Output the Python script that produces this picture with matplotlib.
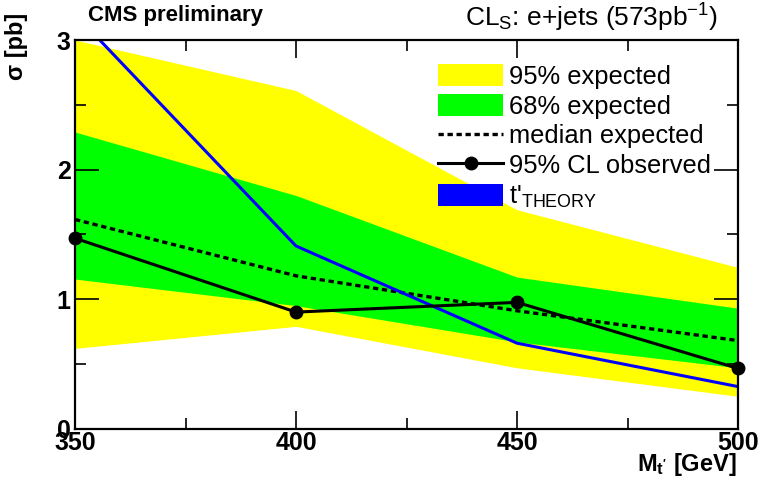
import matplotlib
matplotlib.use('Agg')
import matplotlib.pyplot as plt
from matplotlib.patches import Patch
from matplotlib.lines import Line2D
from matplotlib.ticker import MultipleLocator

plt.rcParams['font.family'] = ['Liberation Sans', 'DejaVu Sans']
plt.rcParams['mathtext.fontset'] = 'custom'
plt.rcParams['mathtext.rm'] = 'Liberation Sans'
plt.rcParams['mathtext.it'] = 'Liberation Sans'
plt.rcParams['mathtext.bf'] = 'Liberation Sans:bold'

mass = [350, 400, 450, 500]
exp95_hi = [3.0, 2.61, 1.69, 1.245]
exp95_lo = [0.62, 0.79, 0.47, 0.25]
exp68_hi = [2.29, 1.80, 1.17, 0.93]
exp68_lo = [1.155, 0.95, 0.67, 0.47]
median_exp = [1.615, 1.18, 0.91, 0.68]
observed = [1.47, 0.90, 0.975, 0.465]
theory = [3.2, 1.41, 0.66, 0.325]

fig = plt.figure(figsize=(7.59, 4.78), dpi=100)
ax = fig.add_axes([75/759, 1-428.7/478, 663/759, 388.7/478])

dots = (0, (1.6, 1.1))
ax.fill_between(mass, exp95_lo, exp95_hi, color='#ffff00', lw=0)
ax.fill_between(mass, exp68_lo, exp68_hi, color='#00ff00', lw=0)
ax.plot(mass, median_exp, color='black', lw=2.4, ls=dots)
ax.plot(mass, theory, color='#0000ff', lw=2.2)
ax.plot(mass, observed, color='black', lw=2.2, marker='o', ms=9, clip_on=False, zorder=5)

ax.set_xlim(350, 500)
ax.set_ylim(0, 3)
ax.xaxis.set_major_locator(MultipleLocator(50))
ax.xaxis.set_minor_locator(MultipleLocator(25))
ax.yaxis.set_major_locator(MultipleLocator(1))
ax.yaxis.set_minor_locator(MultipleLocator(0.5))
ax.tick_params(which='both', direction='in', top=True, right=True, width=1.2)
ax.tick_params(which='major', length=13, labelsize=18)
ax.tick_params(which='minor', length=8)
ax.tick_params(axis='y', which='major', length=17, pad=3)
ax.tick_params(axis='x', which='major', pad=2)
for lab in ax.get_xticklabels() + ax.get_yticklabels():
    lab.set_fontweight('bold')
for s in ax.spines.values():
    s.set_linewidth(1.6)
    s.set_zorder(10)

fig.text(737/759, 1-465/478, r"M$_{\mathbf{t'}}$ [GeV]", fontsize=17, fontweight='bold',
         ha='right', va='center')
fig.text(16/759, 1-46/478, "σ [pb]", fontsize=17, fontweight='bold',
         rotation=90, ha='center', va='center')

fig.text(88/759, 1-15/478, 'CMS preliminary', fontsize=16, fontweight='bold', va='center')
fig.text(718/759, 1-18/478, r'CL$_{\mathrm{S}}$: e+jets (573pb$^{-1}$)', fontsize=19,
         ha='right', va='center')

handles = [
    Patch(facecolor='#ffff00', edgecolor='none'),
    Patch(facecolor='#00ff00', edgecolor='none'),
    Line2D([], [], color='black', lw=2.4, ls=dots),
    Line2D([], [], color='black', lw=2.2, marker='o', ms=9),
    Patch(facecolor='#0000ff', edgecolor='none'),
]
labels = ['95% expected', '68% expected', 'median expected', '95% CL observed',
          r"t'$_{\mathrm{THEORY}}$"]
leg = ax.legend(handles, labels, loc='upper left', bbox_to_anchor=(0.5325, 0.965),
                frameon=False, fontsize=18.4, handlelength=2.55, handleheight=0.95,
                handletextpad=0.22, labelspacing=0.2, borderaxespad=0)

fig.savefig('out.png', dpi=100)
